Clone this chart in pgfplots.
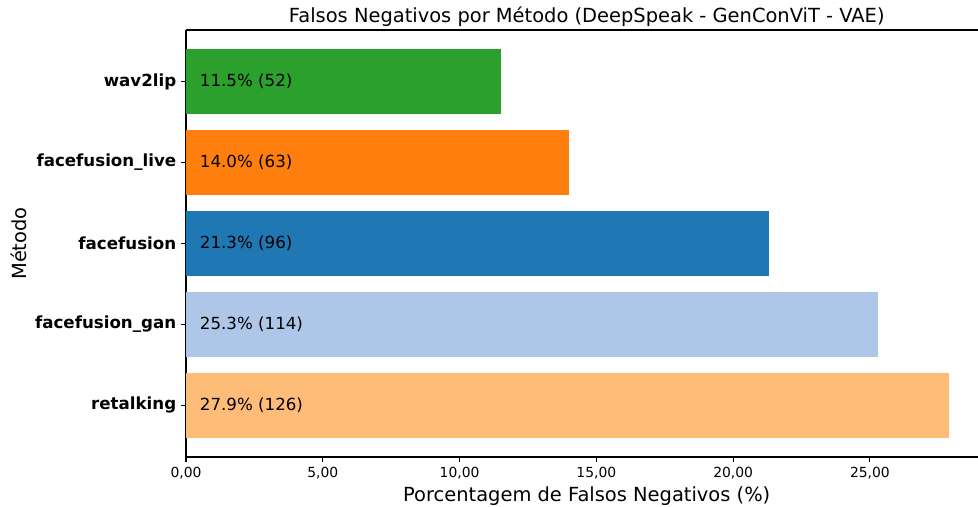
\documentclass[border=0pt]{standalone}
\usepackage{pgfplots}
\pgfplotsset{compat=1.18}
\usepackage{fontspec}
\setmainfont{DejaVu Sans}
\definecolor{cgreen}{HTML}{2CA02C}
\definecolor{corange}{HTML}{FF7F0E}
\definecolor{cblue}{HTML}{1F77B4}
\definecolor{clblue}{HTML}{AEC7E8}
\definecolor{clorange}{HTML}{FFBB78}
\begin{document}
\begin{tikzpicture}
\begin{axis}[
  at={(0pt,0pt)}, anchor=south west,
  scale only axis, width=570.24pt, height=307.44pt,
  xmin=0, xmax=28.95, ymin=-0.64, ymax=4.64,
  axis x line*=bottom, axis y line*=left,
  tick align=outside, major tick length=3.5pt,
  every tick/.style={black, line width=0.8pt},
  axis line style={black, line width=0.8pt},
  xtick={0,5,10,15,20,25},
  /pgf/number format/.cd, fixed, fixed zerofill, precision=2, use comma, assume math mode=true, /pgfplots/.cd,
  xticklabel style={font=\fontsize{10}{12}\selectfont},
  ytick={0,1,2,3,4},
  yticklabels={retalking, facefusion\_gan, facefusion, facefusion\_live, wav2lip},
  yticklabel style={font=\fontsize{12}{14}\selectfont\bfseries},
  xlabel={Porcentagem de Falsos Negativos (\%)},
  xlabel style={font=\fontsize{14}{17}\selectfont, at={(axis description cs:0.506,0)}, anchor=base, yshift=-31.7pt},
  ylabel={Método},
  ylabel style={font=\fontsize{14}{17}\selectfont, at={(axis description cs:-0.2012,0.5)}, anchor=base},
  title={Falsos Negativos por Método (DeepSpeak - GenConViT - VAE)},
  title style={font=\fontsize{14}{17}\selectfont, at={(axis description cs:0.506,1)}, anchor=base, yshift=-0.6pt},
]
\addplot[xbar, bar width=0.8, bar shift=0pt, fill=clorange, draw=none] coordinates {(27.9,0)};
\addplot[xbar, bar width=0.8, bar shift=0pt, fill=clblue, draw=none] coordinates {(25.3,1)};
\addplot[xbar, bar width=0.8, bar shift=0pt, fill=cblue, draw=none] coordinates {(21.3,2)};
\addplot[xbar, bar width=0.8, bar shift=0pt, fill=corange, draw=none] coordinates {(14.0,3)};
\addplot[xbar, bar width=0.8, bar shift=0pt, fill=cgreen, draw=none] coordinates {(11.5,4)};
\addplot[draw=none, mark=none, nodes near coords, point meta=explicit symbolic,
  nodes near coords style={anchor=west, inner sep=0pt, font=\fontsize{12}{14}\selectfont, text=black}]
  coordinates {
    (0.5,0) [27.9\% (126)]
    (0.5,1) [25.3\% (114)]
    (0.5,2) [21.3\% (96)]
    (0.5,3) [14.0\% (63)]
    (0.5,4) [11.5\% (52)]
  };
\draw[black, line width=0.8pt] (rel axis cs:0,1) -- (rel axis cs:1,1);
\end{axis}
\pgfresetboundingbox
\path (-133.92pt,-35.28pt) rectangle (570.24pt,329.04pt);
\end{tikzpicture}
\end{document}
